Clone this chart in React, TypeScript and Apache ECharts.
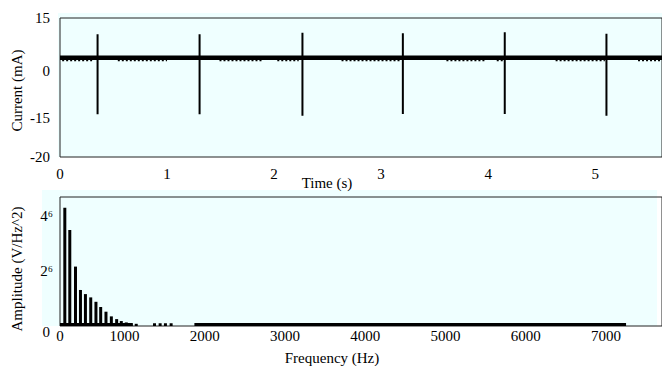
import React, { useEffect, useRef } from "react";
import * as echarts from "echarts";

// ---------- Top panel: current vs time ----------
const timeTicks = [0, 1, 2, 3, 4, 5];
const currentTickValues = [-20, -10.2, 1.7, 15];
const currentTickLabels = ["-20", "-15", "0", "15"];
const baselineTimes = [0, 0.351, 1.304, 2.265, 3.203, 4.155, 5.105, 5.624];
const baselineValues = [5.0, 5.0, 5.0, 5.0, 5.0, 5.0, 5.0, 5.0];
const spikeTimes = [0.351, 1.304, 2.265, 3.203, 4.155, 5.105];
const spikeTops = [10.9, 10.9, 11.3, 11.15, 11.4, 11.05];
const spikeBottoms = [-9.25, -9.25, -9.6, -9.2, -9.2, -9.6];
const dipStarts = [0.02, 0.54, 1.49, 2.03, 2.63, 3.61, 4.08, 4.63, 5.4];
const dipEnds = [0.3, 1.0, 1.89, 2.23, 3.18, 3.98, 4.14, 5.09, 5.62];
const dipLevels = [4.35, 4.35, 4.35, 4.35, 4.35, 4.35, 4.35, 4.35, 4.35];

// ---------- Bottom panel: spectrum ----------
const freqTickValues = [195, 1000, 2000, 3000, 4000, 5000, 6000, 7000];
const freqTickLabels = ["0", "1000", "2000", "3000", "4000", "5000", "6000", "7000"];
const ampTickValues = [0, 2e6, 4e6];
const ampTickLabels = ["0", "2\u2076", "4\u2076"];
const harmonicFreqs = [255, 317, 388, 450, 512, 578, 643, 702, 768, 835, 901, 959, 1021, 1083, 1145, 1373, 1443, 1509, 1580];
const harmonicAmps = [4.3e6, 3.49e6, 2.16e6, 1.31e6, 1.16e6, 1.04e6, 0.88e6, 0.69e6, 0.52e6, 0.35e6, 0.25e6, 0.18e6, 0.13e6, 0.1e6, 0.08e6, 0.1e6, 0.1e6, 0.1e6, 0.1e6];
const floorStarts = [195, 1870];
const floorEnds = [1100, 7250];
const floorLevels = [0.05e6, 0.05e6];

const FONT = "Liberation Serif";

export default function App() {
  const ref = useRef<HTMLDivElement>(null);
  useEffect(() => {
    if (!ref.current) return;
    const chart = echarts.init(ref.current, null, { renderer: "svg" });

    const baseline = baselineTimes.map((t, i) => [t, baselineValues[i]]);
    const spikes: any[] = [];
    spikeTimes.forEach((t, i) => {
      spikes.push([t, spikeTops[i]], [t, spikeBottoms[i]], [t, "-"]);
    });
    const dips: any[] = [];
    dipStarts.forEach((s, i) => {
      dips.push([s, dipLevels[i]], [dipEnds[i], dipLevels[i]], [dipEnds[i], "-"]);
    });
    const bars = harmonicFreqs.map((f, i) => [f, harmonicAmps[i]]);
    const floor: any[] = [];
    floorStarts.forEach((s, i) => {
      floor.push([s, floorLevels[i]], [floorEnds[i], floorLevels[i]], [floorEnds[i], "-"]);
    });

    const txt = { fontFamily: FONT, fontSize: 15, color: "#000" };

    chart.setOption({
      animation: false,
      backgroundColor: "#fff",
      textStyle: { fontFamily: FONT },
      graphic: [
        { type: "rect", z: -10, shape: { x: 58, y: 13, width: 610, height: 144 }, style: { fill: "#EFFFFF" } },
        { type: "rect", z: -10, shape: { x: 42, y: 190, width: 615, height: 136 }, style: { fill: "#EFFFFF" } },
      ],
      grid: [
        { left: 60, top: 18, right: -2, height: 139, show: true, borderColor: "#222", borderWidth: 1, backgroundColor: "transparent" },
        { left: 60, top: 197, right: -2, height: 129, show: true, borderColor: "#222", borderWidth: 1, backgroundColor: "transparent" },
      ],
      xAxis: [
        {
          type: "value", gridIndex: 0, min: 0, max: 5.624,
          axisLine: { show: false }, axisTick: { show: false }, splitLine: { show: false },
          axisLabel: { ...txt, margin: 9, customValues: timeTicks, formatter: (v: number) => String(v) },
          name: "Time (s)", nameLocation: "middle", nameGap: 18, nameMoveOverlap: false,
          nameTextStyle: { ...txt, padding: [0, 68, 0, 0] },
        },
        {
          type: "value", gridIndex: 1, min: 195, max: 7698,
          axisLine: { show: false }, axisTick: { show: false }, splitLine: { show: false },
          axisLabel: {
            ...txt, margin: 2, customValues: freqTickValues,
            formatter: (v: number) => {
              const i = freqTickValues.indexOf(v);
              return i >= 0 ? freqTickLabels[i] : "";
            },
          },
          name: "Frequency (Hz)", nameLocation: "middle", nameGap: 24, nameMoveOverlap: false,
          nameTextStyle: { ...txt, padding: [0, 58, 0, 0] },
        },
      ],
      yAxis: [
        {
          type: "value", gridIndex: 0, min: -20, max: 15,
          axisLine: { show: false }, axisTick: { show: false }, splitLine: { show: false },
          axisLabel: {
            ...txt, margin: 10, customValues: currentTickValues,
            formatter: (v: number) => {
              const i = currentTickValues.indexOf(v);
              return i >= 0 ? currentTickLabels[i] : "";
            },
          },
          name: "Current (mA)", nameLocation: "middle", nameGap: 36, nameMoveOverlap: false,
          nameTextStyle: { ...txt, padding: [0, 6, 0, 0] },
        },
        {
          type: "value", gridIndex: 1, min: 0, max: 4.69e6,
          axisLine: { show: false }, axisTick: { show: false }, splitLine: { show: false },
          axisLabel: {
            ...txt, margin: 7, customValues: ampTickValues,
            formatter: (v: number) => {
              const i = ampTickValues.indexOf(v);
              if (i < 0) return "";
              return v === 0 ? "{z|" + ampTickLabels[i] + "}" : ampTickLabels[i];
            },
            rich: { z: { ...txt, padding: [12, 3, 0, 0] } },
          },
          name: "Amplitude (V/Hz^2)", nameLocation: "middle", nameGap: 36, nameMoveOverlap: false,
          nameTextStyle: { ...txt, padding: [0, 15, 0, 0] },
        },
      ],
      series: [
        {
          type: "line", xAxisIndex: 0, yAxisIndex: 0, data: baseline, showSymbol: false,
          lineStyle: { color: "#000", width: 4.5 }, z: 3,
        },
        {
          type: "line", xAxisIndex: 0, yAxisIndex: 0, data: dips, showSymbol: false,
          lineStyle: { color: "#000", width: 2, type: [2, 2] }, z: 3,
        },
        {
          type: "line", xAxisIndex: 0, yAxisIndex: 0, data: spikes, showSymbol: false,
          lineStyle: { color: "#000", width: 2 }, z: 4,
        },
        {
          type: "bar", xAxisIndex: 1, yAxisIndex: 1, data: bars, barWidth: 3,
          itemStyle: { color: "#000" }, z: 3,
        },
        {
          type: "line", xAxisIndex: 1, yAxisIndex: 1, data: floor, showSymbol: false,
          lineStyle: { color: "#000", width: 3 }, z: 3,
        },
      ],
    });
    return () => chart.dispose();
  }, []);
  return (
    <div
      ref={ref}
      style={{ position: "fixed", left: 0, top: 0, width: 662, height: 366 }}
    />
  );
}
